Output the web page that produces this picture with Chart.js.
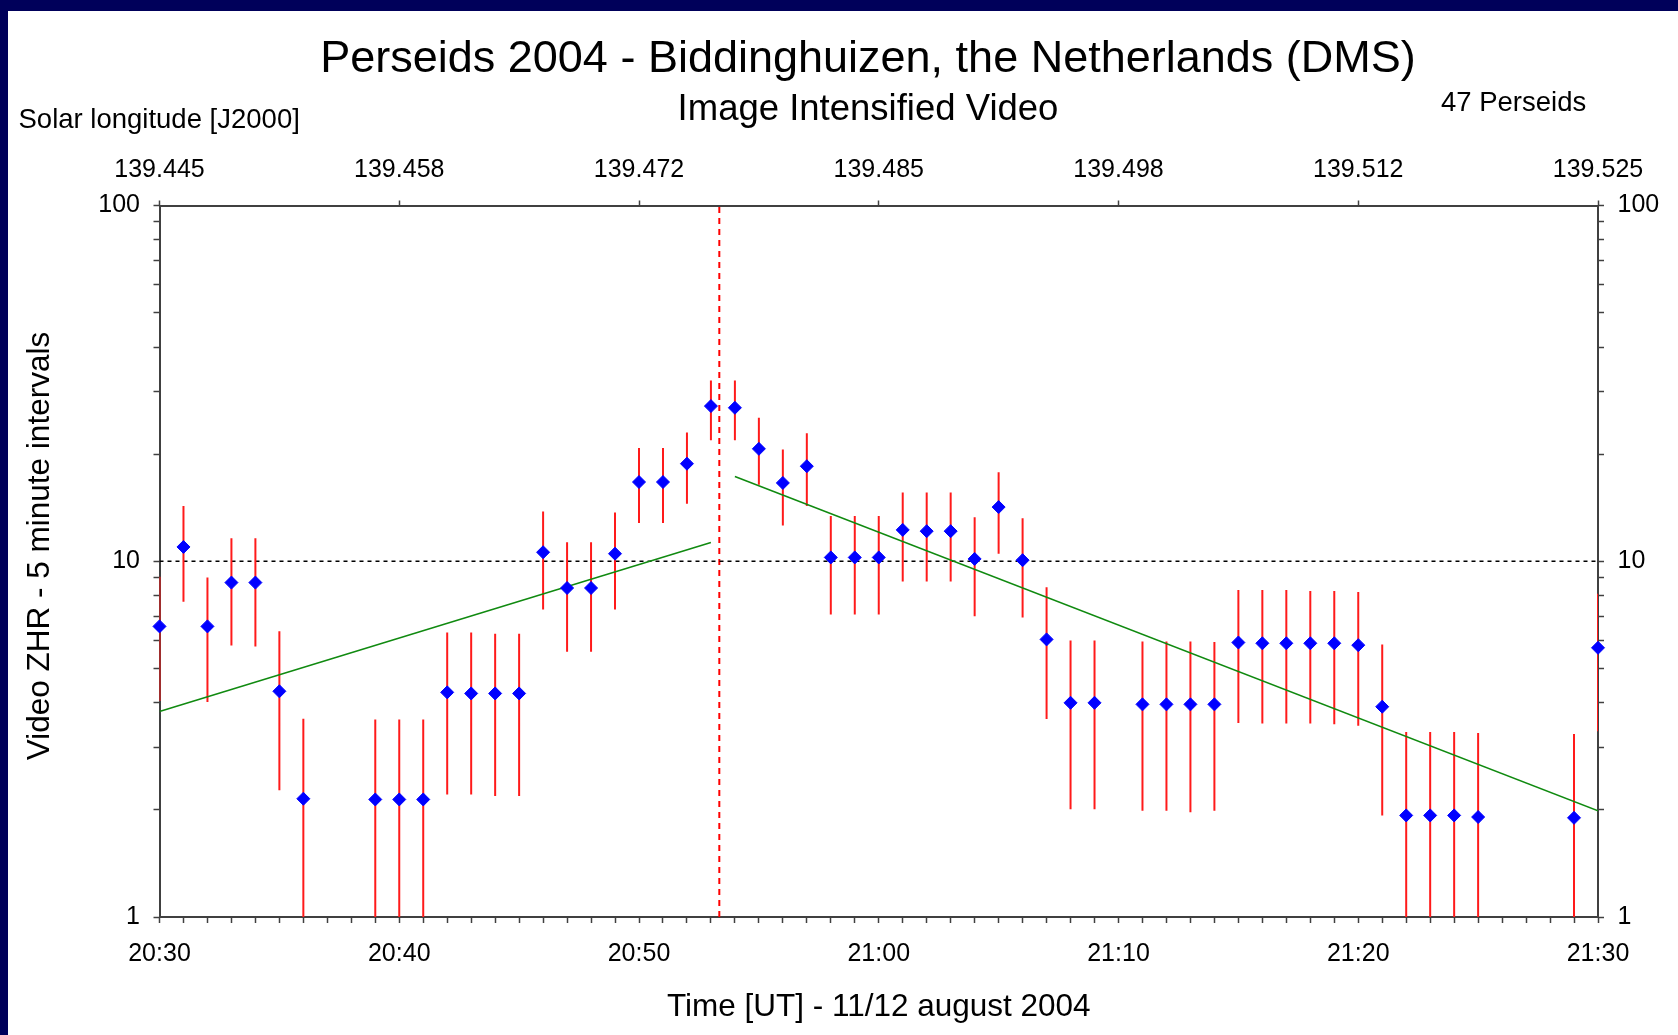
<!DOCTYPE html>
<html>
<head>
<meta charset="utf-8">
<script src="https://cdn.jsdelivr.net/npm/chart.js@4/dist/chart.umd.min.js"></script>
<style>
  html, body { margin: 0; padding: 0; background: #00005a; overflow: hidden; }
  #sheet { position: absolute; left: 8px; top: 11px; width: 1670px; height: 1024px; background: #fff; }
</style>
</head>
<body>
<div id="sheet"><canvas id="chart" width="1670" height="1024"></canvas></div>
<script>
// minutes after 20:30 UT
const minutes = [0, 1, 2, 3, 4, 5, 6, 9, 10, 11, 12, 13, 14, 15, 16, 17, 18, 19, 20, 21, 22, 23, 24, 25, 26, 27, 28, 29, 30,
    31, 32, 33, 34, 35, 36, 37, 38, 39, 41, 42, 43, 44, 45, 46, 47, 48, 49, 50, 51, 52, 53, 54, 55, 59, 60];
const zhr = [6.56, 10.97, 6.56, 8.71, 8.71, 4.31, 2.15, 2.14, 2.14, 2.14, 4.28, 4.25, 4.25, 4.25, 10.6, 8.41, 8.41, 10.5, 16.7, 16.7, 18.8, 27.3, 27.0, 20.7, 16.6, 18.5, 10.25, 10.25, 10.25,
    12.25, 12.15, 12.15, 10.15, 14.2, 10.07, 6.03, 4.0, 4.0, 3.96, 3.96, 3.96, 3.96, 5.91, 5.88, 5.88, 5.88, 5.88, 5.81, 3.9, 1.93, 1.93, 1.93, 1.91, 1.9, 5.71];
const errHigh = [9.05, 14.3, 9.0, 11.6, 11.6, 6.36, 3.61, 3.59, 3.59, 3.59, 6.31, 6.31, 6.25, 6.25, 13.8, 11.3, 11.3, 13.7, 20.8, 20.8, 23.0, 32.2, 32.2, 25.3, 20.6, 22.9, 13.4, 13.4, 13.4,
    15.6, 15.6, 15.6, 13.3, 17.8, 13.2, 8.45, 5.99, 5.99, 5.95, 5.95, 5.95, 5.93, 8.3, 8.3, 8.3, 8.25, 8.25, 8.2, 5.83, 3.31, 3.31, 3.31, 3.29, 3.27, 8.1];
const errLow = [4.05, 7.7, 4.02, 5.8, 5.76, 2.27, 0.69, 0.69, 0.69, 0.69, 2.21, 2.21, 2.19, 2.19, 7.32, 5.57, 5.57, 7.32, 12.8, 12.8, 14.5, 21.9, 21.9, 16.4, 12.6, 14.3, 7.08, 7.08, 7.08,
    8.77, 8.77, 8.77, 7.01, 10.5, 6.95, 3.6, 2.01, 2.01, 1.99, 1.99, 1.97, 1.99, 3.51, 3.5, 3.5, 3.5, 3.48, 3.45, 1.93, 0.55, 0.55, 0.55, 0.53, 0.53, 3.33];

// exponential fits (straight on the log axis)
const fitRiseX = [0, 23];
const fitRiseY = [3.78, 11.29];
const fitFallX = [24, 60];
const fitFallY = [17.3, 1.99];
const peakMinute = 23.35;

const timeLabels = ['20:30', '20:40', '20:50', '21:00', '21:10', '21:20', '21:30'];
const solarLongitudes = ['139.445', '139.458', '139.472', '139.485', '139.498', '139.512', '139.525'];
const zhrLabels = [1, 10, 100];

const FONT = "'Liberation Sans', Arial, sans-serif";
const AXIS = '#404040';

const minuteTicks = [];
for (let m = 0; m <= 60; m++) minuteTicks.push(m);
const logTicks = [];
for (let e = 1; e <= 10; e *= 10) for (let s = 1; s < 10; s++) logTicks.push(s * e);
logTicks.push(100);

const errorBars = [];
minutes.forEach((m, i) => {
    errorBars.push({ x: m, y: errLow[i] }, { x: m, y: errHigh[i] }, { x: m, y: null });
});

// titles and notes around the plot
const headerText = {
    id: 'headerText',
    afterDraw(chart) {
        const ctx = chart.ctx;
        ctx.save();
        ctx.fillStyle = '#000';
        ctx.textBaseline = 'alphabetic';
        ctx.textAlign = 'center';
        ctx.font = '45px ' + FONT;
        ctx.fillText('Perseids 2004 - Biddinghuizen, the Netherlands (DMS)', 860, 61);
        ctx.font = '36.5px ' + FONT;
        ctx.fillText('Image Intensified Video', 860, 109);
        ctx.textAlign = 'left';
        ctx.font = '27.5px ' + FONT;
        ctx.fillText('Solar longitude [J2000]', 10.5, 117);
        ctx.fillText('47 Perseids', 1433, 100);
        // y axis title
        ctx.translate(32, 535);
        ctx.rotate(-Math.PI / 2);
        ctx.textAlign = 'center';
        ctx.textBaseline = 'middle';
        ctx.font = '31.5px ' + FONT;
        ctx.fillText('Video ZHR - 5 minute intervals', 0, 0);
        ctx.restore();
    }
};

function yAxis(position, width) {
    return {
        type: 'logarithmic',
        position: position,
        min: 1,
        max: 100,
        afterBuildTicks: s => { s.ticks = logTicks.map(v => ({ value: v })); },
        afterFit: s => { s.width = width; },
        ticks: {
            autoSkip: false,
            padding: 13.5,
            color: '#000',
            font: { family: FONT, size: 25 },
            callback: v => zhrLabels.includes(v) ? String(v) : ''
        },
        grid: { drawOnChartArea: false, tickLength: 6, tickColor: AXIS, tickWidth: 1.5 },
        border: { display: true, color: AXIS, width: 2 }
    };
}

const ctx = document.getElementById('chart').getContext('2d');
new Chart(ctx, {
    type: 'scatter',
    data: {
        datasets: [
            {
                label: 'ZHR',
                data: minutes.map((m, i) => ({ x: m, y: zhr[i] })),
                pointStyle: 'rectRot',
                pointRadius: 6.5,
                backgroundColor: '#0000ff',
                borderColor: '#0000ff',
                borderWidth: 1,
                clip: false
            },
            {
                label: 'fit rise',
                type: 'line',
                data: fitRiseX.map((x, i) => ({ x: x, y: fitRiseY[i] })),
                borderColor: '#108a10',
                borderWidth: 1.5,
                pointRadius: 0
            },
            {
                label: 'fit fall',
                type: 'line',
                data: fitFallX.map((x, i) => ({ x: x, y: fitFallY[i] })),
                borderColor: '#108a10',
                borderWidth: 1.5,
                pointRadius: 0
            },
            {
                label: 'error',
                type: 'line',
                data: errorBars,
                spanGaps: false,
                borderColor: '#ff1a1a',
                borderWidth: 2,
                pointRadius: 0
            },
            {
                label: 'ZHR 10',
                type: 'line',
                data: [{ x: 0, y: 10 }, { x: 60, y: 10 }],
                borderColor: '#000',
                borderWidth: 1.5,
                borderDash: [4, 4],
                pointRadius: 0
            },
            {
                label: 'peak',
                type: 'line',
                data: [{ x: peakMinute, y: 1 }, { x: peakMinute, y: 100 }],
                borderColor: '#ff0000',
                borderWidth: 2,
                borderDash: [6, 5],
                pointRadius: 0
            }
        ]
    },
    options: {
        responsive: false,
        animation: false,
        layout: { padding: 0 },
        plugins: { legend: { display: false }, tooltip: { enabled: false } },
        scales: {
            x: {
                type: 'linear',
                position: 'bottom',
                min: 0,
                max: 60,
                afterBuildTicks: s => { s.ticks = minuteTicks.map(v => ({ value: v })); },
                afterFit: s => { s.height = 118; },
                ticks: {
                    autoSkip: false,
                    maxRotation: 0,
                    padding: 16,
                    color: '#000',
                    font: { family: FONT, size: 25 },
                    callback: v => v % 10 === 0 ? timeLabels[v / 10] : ''
                },
                grid: { drawOnChartArea: false, tickLength: 6, tickColor: AXIS, tickWidth: 1.5 },
                border: { display: true, color: AXIS, width: 2 },
                title: {
                    display: true,
                    text: 'Time [UT] - 11/12 august 2004',
                    color: '#000',
                    font: { family: FONT, size: 31.5 },
                    padding: { top: 0, bottom: 9 }
                }
            },
            xTop: {
                type: 'linear',
                position: 'top',
                min: 0,
                max: 60,
                afterBuildTicks: s => { s.ticks = timeLabels.map((t, i) => ({ value: i * 10 })); },
                afterFit: s => { s.height = 194.5; },
                ticks: {
                    autoSkip: false,
                    maxRotation: 0,
                    padding: 15,
                    color: '#000',
                    font: { family: FONT, size: 25 },
                    callback: v => solarLongitudes[v / 10]
                },
                grid: { drawOnChartArea: false, tickLength: 5, tickColor: AXIS, tickWidth: 1.5 },
                border: { display: true, color: AXIS, width: 2 }
            },
            y: yAxis('left', 151.5),
            yRight: yAxis('right', 80)
        }
    },
    plugins: [headerText]
});
</script>
</body>
</html>
